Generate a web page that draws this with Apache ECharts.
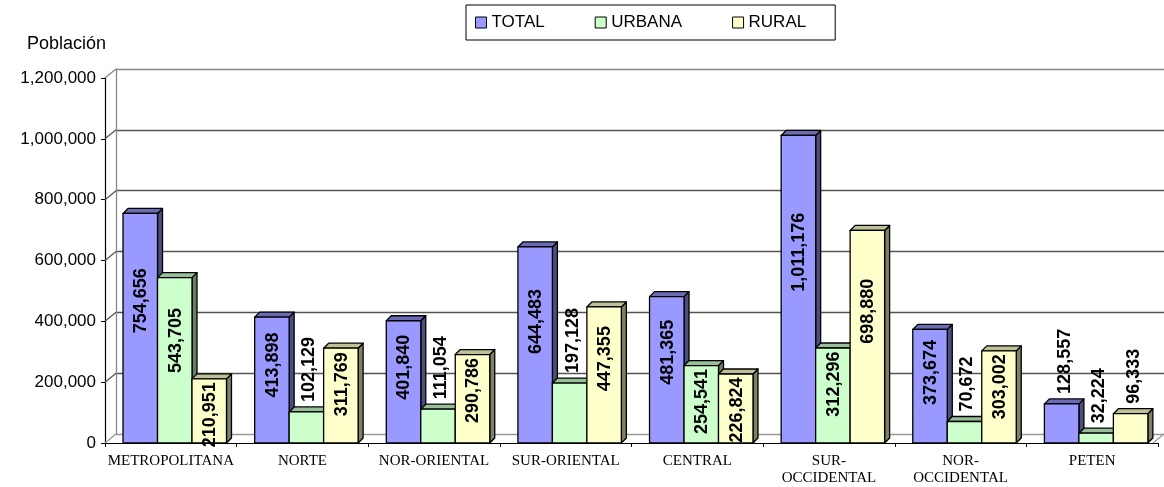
<!DOCTYPE html>
<html>
<head>
<meta charset="utf-8">
<script src="https://cdn.jsdelivr.net/npm/echarts@6/dist/echarts.min.js"></script>
<style>html,body{margin:0;padding:0;background:#fff}#c{width:1164px;height:487px}</style>
</head>
<body>
<div id="c"></div>
<script>
const categories = ['METROPOLITANA','NORTE','NOR-ORIENTAL','SUR-ORIENTAL','CENTRAL','SUR-\nOCCIDENTAL','NOR-\nOCCIDENTAL','PETEN'];
const seriesNames = ['TOTAL','URBANA','RURAL'];
const total  = [754656, 413898, 401840, 644483, 481365, 1011176, 373674, 128557];
const urbana = [543705, 102129, 111054, 197128, 254541, 312296, 70672, 32224];
const rural  = [210951, 311769, 290786, 447355, 226824, 698880, 303002, 96333];
const yTicks = [0, 200000, 400000, 600000, 800000, 1000000, 1200000];
const yName = 'Población';

const FONT = '"Liberation Sans", Arial, sans-serif';
const SERIF = '"Liberation Serif", "Times New Roman", serif';
const faces = [
  {front:'#9999FF', top:'#6b6bb3', side:'#4d4d80'},
  {front:'#CCFFCC', top:'#99bf99', side:'#667f66'},
  {front:'#FFFFCC', top:'#bfbf99', side:'#808066'}
];
const fmt = v => Number(v).toLocaleString('en-US');
const D = 5;

function makeRender(s) {
  return function (params, api) {
    const idx = api.value(0), v = api.value(1);
    const base = api.coord([idx, 0]);
    const top = api.coord([idx, v]);
    const catW = api.size([1, 0])[0];
    const bw = catW * 0.262;
    const x0 = base[0] - 1.5 * bw + catW * 0.03 + s * bw;
    const y0 = top[1], yb = base[1], h = yb - y0;
    const c = faces[s];
    const stroke = {stroke:'#000', lineWidth:1.3, lineJoin:'round'};
    const children = [
      {type:'polygon', shape:{points:[[x0+bw,y0],[x0+bw+D,y0-D],[x0+bw+D,yb-D],[x0+bw,yb]]}, style:Object.assign({fill:c.side}, stroke)},
      {type:'polygon', shape:{points:[[x0,y0],[x0+D,y0-D],[x0+bw+D,y0-D],[x0+bw,y0]]}, style:Object.assign({fill:c.top}, stroke)},
      {type:'rect', shape:{x:x0, y:y0, width:bw, height:h}, style:Object.assign({fill:c.front}, stroke)}
    ];
    const cx = x0 + bw / 2;
    let lbl;
    if (h >= 62) {
      lbl = {type:'text', x:cx + 1, y:y0 + Math.max(0.38 * h, 36), rotation:Math.PI/2,
        style:{x:0, y:0, text:fmt(v), fontSize:18, fontWeight:'bold', fontFamily:FONT, fill:'#000', align:'center', verticalAlign:'middle'}};
    } else {
      lbl = {type:'text', x:cx + 3, y:y0 - 10, rotation:Math.PI/2,
        style:{x:0, y:0, text:fmt(v), fontSize:18, fontWeight:'bold', fontFamily:FONT, fill:'#000', align:'left', verticalAlign:'middle'}};
    }
    children.push(lbl);
    return {type:'group', children};
  };
}

const gridColors = ['#999','#555','#555','#555','#555','#555','#888'];

function wallRender(params, api) {
  const v = api.value(0);
  const cs = params.coordSys;
  const p = api.coord([0, v]);
  const i = yTicks.indexOf(v);
  const col = gridColors[i] || '#555';
  const kids = [{type:'line', shape:{x1:cs.x - 11, y1:p[1] + 9, x2:cs.x, y2:p[1]}, style:{stroke:col, lineWidth:1.3}}];
  if (v === 0) {
    kids.push({type:'line', shape:{x1:cs.x + cs.width - 11, y1:p[1] + 9, x2:cs.x + cs.width, y2:p[1]}, style:{stroke:col, lineWidth:1.3}});
  }
  return {type:'group', children:kids};
}

const data = [total, urbana, rural];
const chart = echarts.init(document.getElementById('c'));
chart.setOption({
  animation:false,
  backgroundColor:'#fff',
  title:{text:yName, left:22, top:30, textStyle:{fontSize:18, fontWeight:'normal', fontFamily:FONT, color:'#000'}},
  legend:{
    data:seriesNames, left:466, top:5, padding:[9,29,9,9], itemGap:50,
    itemWidth:11, itemHeight:11, icon:'rect',
    borderColor:'#000', borderWidth:1,
    itemStyle:{borderColor:'#000', borderWidth:1},
    textStyle:{fontSize:17, fontFamily:FONT, color:'#000'}
  },
  grid:[
    {left:105, right:6, top:78, bottom:44},
    {left:116, right:-5, top:69, bottom:53}
  ],
  xAxis:[
    {type:'category', gridIndex:0, data:categories, boundaryGap:true,
     axisLine:{show:true, lineStyle:{color:'#000', width:1.2}},
     axisTick:{show:true, length:4, interval:0, lineStyle:{color:'#000'}},
     axisLabel:{interval:0, fontFamily:SERIF, fontSize:15, color:'#000', lineHeight:17, margin:10},
     splitLine:{show:false}},
    {type:'category', gridIndex:1, data:categories, show:false}
  ],
  yAxis:[
    {type:'value', gridIndex:0, min:0, max:1200000, interval:200000,
     axisLine:{show:true, lineStyle:{color:'#000', width:1.2}},
     axisTick:{show:true, length:4, lineStyle:{color:'#000'}},
     axisLabel:{formatter:v => fmt(v), fontFamily:FONT, fontSize:17, color:'#000', margin:9},
     splitLine:{show:false}},
    {type:'value', gridIndex:1, min:0, max:1200000, interval:200000,
     axisLine:{show:true, lineStyle:{color:'#888', width:1.3}},
     axisTick:{show:false}, axisLabel:{show:false},
     splitLine:{show:true, lineStyle:{color:gridColors, width:1.3}}}
  ],
  series:[
    {type:'custom', name:'wall', xAxisIndex:1, yAxisIndex:1, data:yTicks.map(v => [v]), renderItem:wallRender, silent:true, z:1, clip:false},
  ].concat(seriesNames.map((n, s) => ({
    type:'custom', name:n, xAxisIndex:0, yAxisIndex:0,
    itemStyle:{color:faces[s].front, borderColor:'#000', borderWidth:1},
    data:data[s].map((v, i) => [i, v]),
    encode:{x:0, y:1},
    renderItem:makeRender(s), clip:false, z:3
  })))
});
</script>
</body>
</html>
